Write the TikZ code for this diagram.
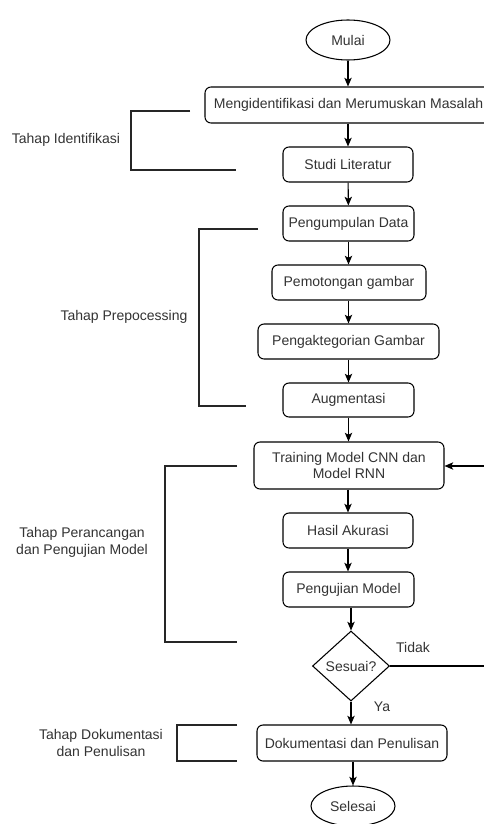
\documentclass[tikz,border=0pt]{standalone}
\usepackage{fontspec}
\setmainfont{Liberation Sans}
\usetikzlibrary{shapes.geometric,arrows.meta}
\definecolor{txt}{HTML}{333333}
\begin{document}
\begin{tikzpicture}[x=0.75pt,y=-0.75pt,
  every node/.style={font=\fontsize{10.5}{12.6}\selectfont, text=txt},
  box/.style={draw, line width=0.8pt, rounded corners=4.5pt, align=center, inner sep=0pt},
  oval/.style={draw, line width=0.8pt, ellipse, inner sep=0pt, minimum width=63pt, minimum height=30pt},
  dec/.style={draw, line width=0.8pt, diamond, inner sep=0pt, minimum width=57.75pt, minimum height=52.5pt},
  arr/.style={line width=0.8pt, -{Stealth[length=6.5pt,width=5.5pt,inset=1.5pt]}},
  brk/.style={line width=0.8pt, draw=black!85},
  lbl/.style={align=center}]
\path[use as bounding box] (0,0) rectangle (484,824);
\fill[white] (0,0) rectangle (484,824);

\node[oval] (mulai) at (348,40) {Mulai};
\node[box, minimum width=215.25pt, minimum height=27pt] (meng) at (348.5,105) {Mengidentifikasi dan Merumuskan Masalah};
\node[box, minimum width=97.5pt, minimum height=26.25pt] (studi) at (348,164.5) {Studi Literatur};
\node[box, minimum width=98.25pt, minimum height=26.25pt] (kumpul) at (348.5,223.5) {Pengumpulan Data};
\node[box, minimum width=115.5pt, minimum height=26.25pt] (potong) at (349,282.5) {Pemotongan gambar};
\node[box, minimum width=135.75pt, minimum height=26.25pt] (kategori) at (348.5,341.5) {Pengaktegorian Gambar};
\node[box, minimum width=98.25pt, minimum height=25.5pt] (augm) at (348.5,400) {Augmentasi};
\node[box, minimum width=142.5pt, minimum height=35.25pt] (train) at (349,465.5) {Training Model CNN dan\\Model RNN};
\node[box, minimum width=97.5pt, minimum height=26.25pt] (hasil) at (348,530.5) {Hasil Akurasi};
\node[box, minimum width=98.25pt, minimum height=26.25pt] (uji) at (348.5,589.5) {Pengujian Model};
\node[dec] (sesuai) at (351,666) {Sesuai?};
\node[box, minimum width=142.5pt, minimum height=27pt] (dok) at (352,743) {Dokumentasi dan Penulisan};
\node[oval] (selesai) at (353,806) {Selesai};

\draw[arr] (mulai) -- (mulai.south |- meng.north);
\draw[arr] (meng.south -| studi.north) -- (studi);
\draw[arr] (studi) -- (kumpul);
\draw[arr] (kumpul) -- (potong.north -| kumpul.south);
\draw[arr] (potong.south -| kumpul.south) -- (kategori);
\draw[arr] (kategori) -- (augm);
\draw[arr] (augm) -- (train.north -| augm.south);
\draw[arr] (train.south -| hasil.north) -- (hasil);
\draw[arr] (hasil) -- (uji.north -| hasil.south);
\draw[arr] (uji.south -| sesuai.north) -- (sesuai);
\draw[arr] (sesuai) -- (dok.north -| sesuai.south);
\draw[arr] (dok.south -| selesai.north) -- (selesai);

\coordinate (fbA) at (485.5,666);
\coordinate (fbB) at (485.5,466);
\draw[arr] (sesuai.east) -- (fbA) -- (fbB) -- (train.east |- fbB);
\node (tidak) at (413,647) {Tidak};
\node (ya) at (382,707) {Ya};

% brackets
\coordinate (b1a) at (190,111); \coordinate (b1b) at (131,111);
\coordinate (b1c) at (131,170); \coordinate (b1d) at (236,170);
\draw[brk] (b1a) -- (b1b) -- (b1c) -- (b1d);
\node[lbl] (l1) at (66,140) {Tahap Identifikasi};

\coordinate (b2a) at (258,229); \coordinate (b2b) at (199,229);
\coordinate (b2c) at (199,406); \coordinate (b2d) at (246,406);
\draw[brk] (b2a) -- (b2b) -- (b2c) -- (b2d);
\node[lbl] (l2) at (124,317) {Tahap Prepocessing};

\coordinate (b3a) at (237,466); \coordinate (b3b) at (165,466);
\coordinate (b3c) at (165,642); \coordinate (b3d) at (237,642);
\draw[brk] (b3a) -- (b3b) -- (b3c) -- (b3d);
\node[lbl] (l3) at (82,542) {Tahap Perancangan\\dan Pengujian Model};

\coordinate (b4a) at (237,725); \coordinate (b4b) at (177,725);
\coordinate (b4c) at (177,761); \coordinate (b4d) at (237,761);
\draw[brk] (b4a) -- (b4b) -- (b4c) -- (b4d);
\node[lbl] (l4) at (101,743) {Tahap Dokumentasi\\dan Penulisan};
\end{tikzpicture}
\end{document}
